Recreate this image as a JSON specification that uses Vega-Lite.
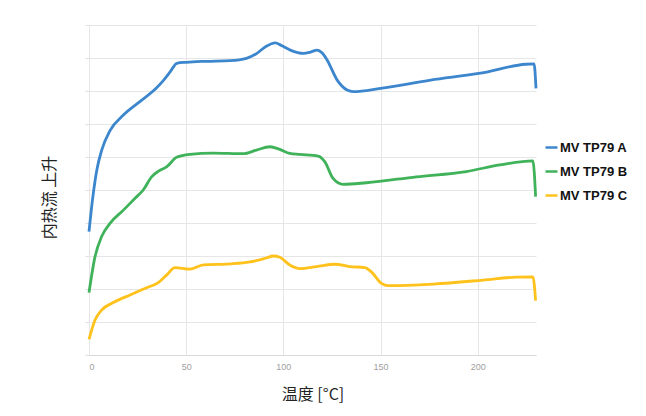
{
  "$schema": "https://vega.github.io/schema/vega-lite/v6.json",
  "width": 447,
  "height": 330,
  "autosize": {"type": "none"},
  "padding": {"left": 89, "top": 25, "right": 110, "bottom": 61},
  "background": "white",
  "config": {
    "view": {"stroke": null},
    "font": "Liberation Sans"
  },
  "data": {
    "values": [
      {"s": "MV TP79 A", "t": 0, "v": 3.74},
      {"s": "MV TP79 A", "t": 2, "v": 4.8},
      {"s": "MV TP79 A", "t": 4, "v": 5.6},
      {"s": "MV TP79 A", "t": 6.5, "v": 6.2},
      {"s": "MV TP79 A", "t": 10.8, "v": 6.8},
      {"s": "MV TP79 A", "t": 17.7, "v": 7.27},
      {"s": "MV TP79 A", "t": 26, "v": 7.67},
      {"s": "MV TP79 A", "t": 34.8, "v": 8.1},
      {"s": "MV TP79 A", "t": 38, "v": 8.3},
      {"s": "MV TP79 A", "t": 42, "v": 8.6},
      {"s": "MV TP79 A", "t": 45.2, "v": 8.84},
      {"s": "MV TP79 A", "t": 50, "v": 8.87},
      {"s": "MV TP79 A", "t": 60, "v": 8.9},
      {"s": "MV TP79 A", "t": 72.7, "v": 8.92},
      {"s": "MV TP79 A", "t": 81, "v": 8.99},
      {"s": "MV TP79 A", "t": 86.4, "v": 9.14},
      {"s": "MV TP79 A", "t": 91, "v": 9.35},
      {"s": "MV TP79 A", "t": 95.9, "v": 9.46},
      {"s": "MV TP79 A", "t": 99, "v": 9.38},
      {"s": "MV TP79 A", "t": 103.6, "v": 9.24},
      {"s": "MV TP79 A", "t": 110.4, "v": 9.14},
      {"s": "MV TP79 A", "t": 114, "v": 9.18},
      {"s": "MV TP79 A", "t": 117.4, "v": 9.24},
      {"s": "MV TP79 A", "t": 120, "v": 9.15},
      {"s": "MV TP79 A", "t": 122.5, "v": 8.94},
      {"s": "MV TP79 A", "t": 127.7, "v": 8.33},
      {"s": "MV TP79 A", "t": 132.8, "v": 8.03},
      {"s": "MV TP79 A", "t": 136, "v": 7.98},
      {"s": "MV TP79 A", "t": 150, "v": 8.08},
      {"s": "MV TP79 A", "t": 175.8, "v": 8.33},
      {"s": "MV TP79 A", "t": 201.5, "v": 8.54},
      {"s": "MV TP79 A", "t": 224.7, "v": 8.81},
      {"s": "MV TP79 A", "t": 229, "v": 8.82},
      {"s": "MV TP79 A", "t": 230, "v": 8.08},
      {"s": "MV TP79 B", "t": 0, "v": 1.89},
      {"s": "MV TP79 B", "t": 3.1, "v": 2.98},
      {"s": "MV TP79 B", "t": 6.5, "v": 3.59},
      {"s": "MV TP79 B", "t": 10.8, "v": 3.99},
      {"s": "MV TP79 B", "t": 17.7, "v": 4.39},
      {"s": "MV TP79 B", "t": 23.7, "v": 4.75},
      {"s": "MV TP79 B", "t": 27.9, "v": 5.0},
      {"s": "MV TP79 B", "t": 32.2, "v": 5.4},
      {"s": "MV TP79 B", "t": 36, "v": 5.58},
      {"s": "MV TP79 B", "t": 39.9, "v": 5.7},
      {"s": "MV TP79 B", "t": 45.1, "v": 5.99},
      {"s": "MV TP79 B", "t": 51.9, "v": 6.08},
      {"s": "MV TP79 B", "t": 63.9, "v": 6.12},
      {"s": "MV TP79 B", "t": 79.3, "v": 6.1},
      {"s": "MV TP79 B", "t": 86.2, "v": 6.21},
      {"s": "MV TP79 B", "t": 93.1, "v": 6.31},
      {"s": "MV TP79 B", "t": 98.2, "v": 6.23},
      {"s": "MV TP79 B", "t": 103.3, "v": 6.11},
      {"s": "MV TP79 B", "t": 108.5, "v": 6.08},
      {"s": "MV TP79 B", "t": 117.9, "v": 6.03},
      {"s": "MV TP79 B", "t": 121.3, "v": 5.86},
      {"s": "MV TP79 B", "t": 125.6, "v": 5.35},
      {"s": "MV TP79 B", "t": 130.7, "v": 5.17},
      {"s": "MV TP79 B", "t": 142.7, "v": 5.22},
      {"s": "MV TP79 B", "t": 168.5, "v": 5.4},
      {"s": "MV TP79 B", "t": 194.2, "v": 5.56},
      {"s": "MV TP79 B", "t": 211.3, "v": 5.76},
      {"s": "MV TP79 B", "t": 228.4, "v": 5.88},
      {"s": "MV TP79 B", "t": 229.8, "v": 4.8},
      {"s": "MV TP79 C", "t": 0, "v": 0.47},
      {"s": "MV TP79 C", "t": 3.1, "v": 1.06},
      {"s": "MV TP79 C", "t": 6.5, "v": 1.36},
      {"s": "MV TP79 C", "t": 12.5, "v": 1.59},
      {"s": "MV TP79 C", "t": 21.1, "v": 1.82},
      {"s": "MV TP79 C", "t": 29.7, "v": 2.04},
      {"s": "MV TP79 C", "t": 35.6, "v": 2.19},
      {"s": "MV TP79 C", "t": 39.9, "v": 2.42},
      {"s": "MV TP79 C", "t": 44.2, "v": 2.65},
      {"s": "MV TP79 C", "t": 51.9, "v": 2.6},
      {"s": "MV TP79 C", "t": 58.8, "v": 2.73},
      {"s": "MV TP79 C", "t": 72.5, "v": 2.76},
      {"s": "MV TP79 C", "t": 82.8, "v": 2.82},
      {"s": "MV TP79 C", "t": 89.6, "v": 2.91},
      {"s": "MV TP79 C", "t": 94.8, "v": 3.0},
      {"s": "MV TP79 C", "t": 98.2, "v": 2.96},
      {"s": "MV TP79 C", "t": 103.3, "v": 2.73},
      {"s": "MV TP79 C", "t": 108.5, "v": 2.62},
      {"s": "MV TP79 C", "t": 117.1, "v": 2.68},
      {"s": "MV TP79 C", "t": 126.5, "v": 2.75},
      {"s": "MV TP79 C", "t": 134.2, "v": 2.68},
      {"s": "MV TP79 C", "t": 141.9, "v": 2.65},
      {"s": "MV TP79 C", "t": 145.3, "v": 2.52},
      {"s": "MV TP79 C", "t": 150.5, "v": 2.17},
      {"s": "MV TP79 C", "t": 153.9, "v": 2.1},
      {"s": "MV TP79 C", "t": 177.1, "v": 2.15},
      {"s": "MV TP79 C", "t": 202.8, "v": 2.27},
      {"s": "MV TP79 C", "t": 219.9, "v": 2.36},
      {"s": "MV TP79 C", "t": 228.4, "v": 2.37},
      {"s": "MV TP79 C", "t": 229.8, "v": 1.65}
    ]
  },
  "mark": {"type": "line", "interpolate": "monotone", "strokeWidth": 2.8},
  "encoding": {
    "x": {
      "field": "t",
      "type": "quantitative",
      "scale": {"domain": [0, 230], "nice": false, "zero": false},
      "axis": {
        "values": [0, 50, 100, 150, 200],
        "title": "温度 [°C]",
        "titleFont": "Noto Sans CJK SC",
        "titleFontSize": 16,
        "titleFontWeight": "normal",
        "titleColor": "#222222",
        "titlePadding": 15,
        "labelFont": "Liberation Sans",
        "labelFontSize": 9,
        "labelColor": "#a0a0a0",
        "labelPadding": 7,
        "ticks": false,
        "domainColor": "#d9d9d9",
        "gridColor": "#e6e6e6"
      }
    },
    "y": {
      "field": "v",
      "type": "quantitative",
      "scale": {"domain": [0, 10], "nice": false},
      "axis": {
        "values": [0, 1, 2, 3, 4, 5, 6, 7, 8, 9, 10],
        "title": "内热流 上升",
        "titleFont": "Noto Sans CJK SC",
        "titleFontSize": 16,
        "titleFontWeight": "normal",
        "titleColor": "#222222",
        "titlePadding": 27,
        "titleY": 172,
        "labels": false,
        "ticks": true,
        "tickSize": 4,
        "tickColor": "#e0e0e0",
        "domain": false,
        "gridColor": "#e6e6e6"
      }
    },
    "color": {
      "field": "s",
      "type": "nominal",
      "scale": {
        "domain": ["MV TP79 A", "MV TP79 B", "MV TP79 C"],
        "range": ["#3b86cd", "#3fb25a", "#ffc21c"]
      },
      "legend": {
        "title": null,
        "orient": "none",
        "legendX": 455,
        "legendY": 115,
        "symbolType": "stroke",
        "symbolSize": 144,
        "symbolStrokeWidth": 2.5,
        "labelFont": "Liberation Sans",
        "labelFontSize": 13,
        "labelFontWeight": "bold",
        "labelColor": "#111111",
        "labelOffset": 1,
        "rowPadding": 9
      }
    }
  }
}
